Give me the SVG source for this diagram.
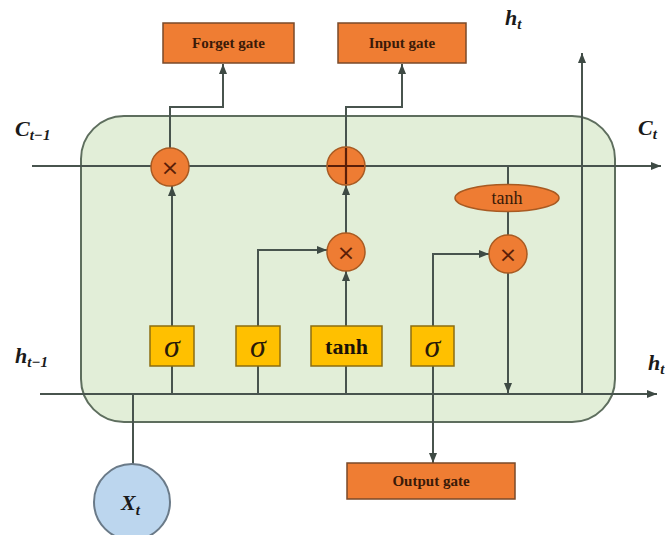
<svg xmlns="http://www.w3.org/2000/svg" width="665" height="535" viewBox="0 0 665 535">
<defs>
<marker id="arr" markerUnits="userSpaceOnUse" markerWidth="10" markerHeight="10" viewBox="0 0 10 10" refX="10" refY="5" orient="auto">
<path d="M0,1 L10,5 L0,9 Z" fill="#3e4a44"/>
</marker>
<style>
.ln{fill:none;stroke:#48544e;stroke-width:2}
.ar{fill:none;stroke:#48544e;stroke-width:2;marker-end:url(#arr)}
.gate{fill:#ef7d33;stroke:#7a4a2a;stroke-width:1.5}
.gt{font-family:"Liberation Serif",serif;font-weight:bold;font-size:15px;fill:#3a1a08;text-anchor:middle}
.op{fill:#ee7c33;stroke:#a85a22;stroke-width:1.5}
.opx{font-family:"DejaVu Sans",sans-serif;font-size:22px;fill:#5a1e08;text-anchor:middle}
.act{fill:#ffc000;stroke:#8c6d10;stroke-width:1.5}
.sig{font-family:"Liberation Serif",serif;font-style:italic;font-size:32px;fill:#2a1a08;text-anchor:middle}
.lab{font-family:"Liberation Serif",serif;font-weight:bold;font-style:italic;font-size:22px;fill:#1a1a1a}
</style>
</defs>
<rect id="cell" x="81" y="116" width="534" height="306" rx="43" ry="43" fill="#e2eed8" stroke="#5e6e5e" stroke-width="2"/>
<g id="connectors">
<line class="ar" x1="32" y1="166" x2="661" y2="166"/>
<line class="ar" x1="40" y1="394" x2="657" y2="394"/>
<line class="ln" x1="133" y1="394" x2="133" y2="464"/>
<line class="ln" x1="172" y1="394" x2="172" y2="366"/>
<line class="ar" x1="172" y1="326" x2="172" y2="186"/>
<polyline class="ar" points="170,148 170,107 223,107 223,64"/>
<line class="ln" x1="258" y1="394" x2="258" y2="366"/>
<polyline class="ar" points="258,326 258,250 327,250"/>
<line class="ln" x1="346" y1="394" x2="346" y2="366"/>
<line class="ar" x1="346" y1="326" x2="346" y2="271"/>
<line class="ar" x1="346" y1="233" x2="346" y2="185"/>
<polyline class="ar" points="346,147 346,107 402,107 402,64"/>
<line class="ar" x1="433" y1="366" x2="433" y2="463"/>
<polyline class="ar" points="433,326 433,254 489,254"/>
<line class="ln" x1="508" y1="166" x2="508" y2="185"/>
<line class="ln" x1="508" y1="212" x2="508" y2="235"/>
<line class="ar" x1="508" y1="273" x2="508" y2="393"/>
<line class="ar" x1="582" y1="394" x2="582" y2="53"/>
</g>
<g id="forget-gate"><rect class="gate" x="163" y="23" width="131" height="40"/><text class="gt" x="228.5" y="48">Forget gate</text></g>
<g id="input-gate"><rect class="gate" x="338" y="23" width="128" height="40"/><text class="gt" x="402" y="48">Input gate</text></g>
<g id="output-gate"><rect class="gate" x="347" y="463" width="168" height="36"/><text class="gt" x="431" y="486">Output gate</text></g>
<g id="mul-forget"><circle class="op" cx="170" cy="167" r="19"/><text class="opx" x="170" y="175">×</text></g>
<g id="add"><circle class="op" cx="346" cy="166" r="19"/><path d="M346,148 V184 M328,166 H364" stroke="#5a1e08" stroke-width="2.2" fill="none"/></g>
<g id="mul-input"><circle class="op" cx="346" cy="252" r="19"/><text class="opx" x="346" y="260">×</text></g>
<g id="mul-output"><circle class="op" cx="508" cy="254" r="19"/><text class="opx" x="508" y="262">×</text></g>
<g id="tanh-out"><ellipse class="op" cx="507" cy="198" rx="52" ry="13.5"/><text x="507" y="204" font-family="Liberation Serif, serif" font-size="18" fill="#3a1a08" text-anchor="middle">tanh</text></g>
<g id="sigma-f"><rect class="act" x="150" y="326" width="44" height="40"/><text class="sig" x="172" y="357">σ</text></g>
<g id="sigma-i"><rect class="act" x="236" y="326" width="44" height="40"/><text class="sig" x="258" y="357">σ</text></g>
<g id="tanh-c"><rect class="act" x="311" y="326" width="71" height="40"/><text x="346.5" y="354" font-family="Liberation Serif, serif" font-weight="bold" font-size="22" fill="#1a1208" text-anchor="middle">tanh</text></g>
<g id="sigma-o"><rect class="act" x="411" y="326" width="43" height="40"/><text class="sig" x="432.5" y="357">σ</text></g>
<g id="xt"><circle cx="132" cy="502" r="38" fill="#bcd6ee" stroke="#6a7a88" stroke-width="2"/><text class="lab" x="121" y="510" font-size="26">X<tspan font-size="15" dy="5">t</tspan></text></g>
<g id="labels">
<text class="lab" x="15" y="136">C<tspan font-size="15" dy="4">t−1</tspan></text>
<text class="lab" x="15" y="363">h<tspan font-size="15" dy="4">t−1</tspan></text>
<text class="lab" x="505" y="25">h<tspan font-size="15" dy="4">t</tspan></text>
<text class="lab" x="638" y="135">C<tspan font-size="15" dy="4">t</tspan></text>
<text class="lab" x="648" y="370">h<tspan font-size="15" dy="4">t</tspan></text>
</g>
</svg>
